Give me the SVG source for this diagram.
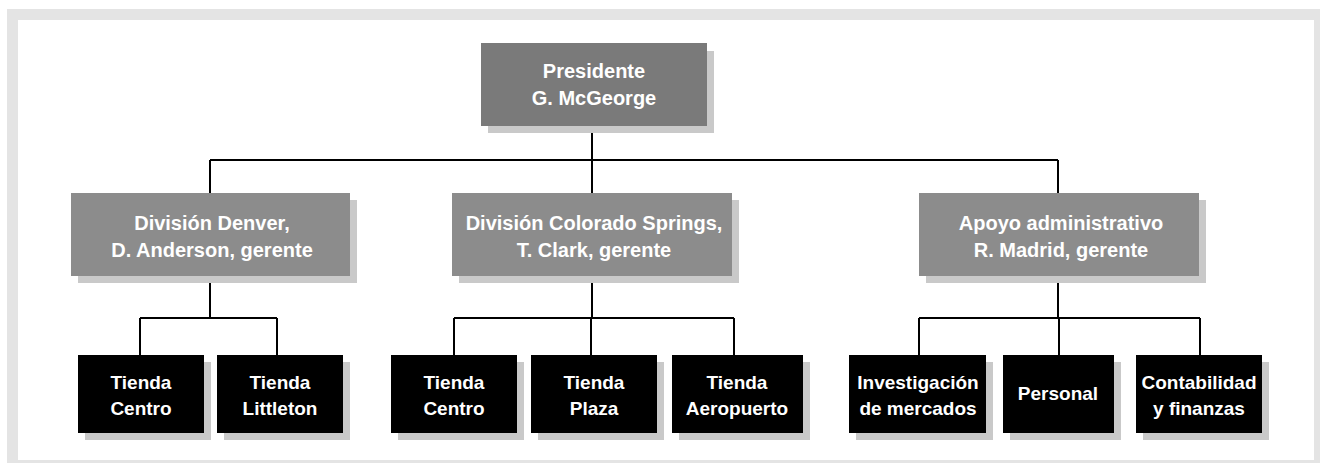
<svg xmlns="http://www.w3.org/2000/svg" width="1320" height="463" viewBox="0 0 1320 463">
<style>
text{font-family:"Liberation Sans",Arial,sans-serif;font-weight:bold;font-size:19px;fill:#ffffff;text-anchor:middle}
.big{font-size:20px}
.sh{fill:#c9c9c9}
.top{fill:#7a7a7a}
.mid{fill:#8c8c8c}
.leaf{fill:#000000}
.c{stroke:#000;stroke-width:2;fill:none}
</style>
<rect x="0" y="0" width="1320" height="463" fill="#ffffff"/>
<rect x="7" y="9" width="1313" height="454" fill="#e4e4e4"/>
<rect x="18" y="20" width="1296" height="440" fill="#ffffff"/>
<g id="connectors">
<path class="c" d="M592 126V160M210 160H1058M210 160V193M592 160V193M1058 160V193"/>
<path class="c" d="M210 276V318M140 318H277M140 318V355M277 318V355"/>
<path class="c" d="M592 276V318M454 318H734M454 318V355M591 318V355M734 318V355"/>
<path class="c" d="M1058 276V318M919 318H1200M919 318V355M1059 318V355M1200 318V355"/>
</g>
<g id="presidente">
<rect class="sh" x="488" y="51" width="226" height="82"/>
<rect class="top" x="481" y="43" width="226" height="83"/>
<text class="big" x="594" y="78">Presidente</text>
<text class="big" x="594" y="105">G. McGeorge</text>
</g>
<g id="div-denver">
<rect class="sh" x="78" y="200" width="279" height="83"/>
<rect class="mid" x="71" y="193" width="279" height="83"/>
<text class="big" x="212" y="230">División Denver,</text>
<text class="big" x="212" y="257">D. Anderson, gerente</text>
</g>
<g id="div-colorado">
<rect class="sh" x="459" y="200" width="280" height="83"/>
<rect class="mid" x="452" y="193" width="280" height="83"/>
<text class="big" x="594" y="230">División Colorado Springs,</text>
<text class="big" x="594" y="257">T. Clark, gerente</text>
</g>
<g id="apoyo">
<rect class="sh" x="926" y="200" width="280" height="83"/>
<rect class="mid" x="919" y="193" width="280" height="83"/>
<text class="big" x="1061" y="230">Apoyo administrativo</text>
<text class="big" x="1061" y="257">R. Madrid, gerente</text>
</g>
<g id="tienda-centro-denver">
<rect class="sh" x="85" y="362" width="126" height="78"/>
<rect class="leaf" x="78" y="355" width="126" height="78"/>
<text x="141" y="389">Tienda</text>
<text x="141" y="415">Centro</text>
</g>
<g id="tienda-littleton">
<rect class="sh" x="224" y="362" width="126" height="78"/>
<rect class="leaf" x="217" y="355" width="126" height="78"/>
<text x="280" y="389">Tienda</text>
<text x="280" y="415">Littleton</text>
</g>
<g id="tienda-centro-cs">
<rect class="sh" x="398" y="362" width="126" height="78"/>
<rect class="leaf" x="391" y="355" width="126" height="78"/>
<text x="454" y="389">Tienda</text>
<text x="454" y="415">Centro</text>
</g>
<g id="tienda-plaza">
<rect class="sh" x="538" y="362" width="126" height="78"/>
<rect class="leaf" x="531" y="355" width="126" height="78"/>
<text x="594" y="389">Tienda</text>
<text x="594" y="415">Plaza</text>
</g>
<g id="tienda-aeropuerto">
<rect class="sh" x="679" y="362" width="131" height="78"/>
<rect class="leaf" x="672" y="355" width="131" height="78"/>
<text x="737" y="389">Tienda</text>
<text x="737" y="415">Aeropuerto</text>
</g>
<g id="investigacion">
<rect class="sh" x="856" y="362" width="137" height="78"/>
<rect class="leaf" x="849" y="355" width="137" height="78"/>
<text x="918" y="389">Investigación</text>
<text x="918" y="415">de mercados</text>
</g>
<g id="personal">
<rect class="sh" x="1010" y="362" width="111" height="78"/>
<rect class="leaf" x="1003" y="355" width="111" height="78"/>
<text x="1058" y="400">Personal</text>
</g>
<g id="contabilidad">
<rect class="sh" x="1143" y="362" width="126" height="78"/>
<rect class="leaf" x="1136" y="355" width="126" height="78"/>
<text x="1199" y="389">Contabilidad</text>
<text x="1199" y="415">y finanzas</text>
</g>
</svg>
